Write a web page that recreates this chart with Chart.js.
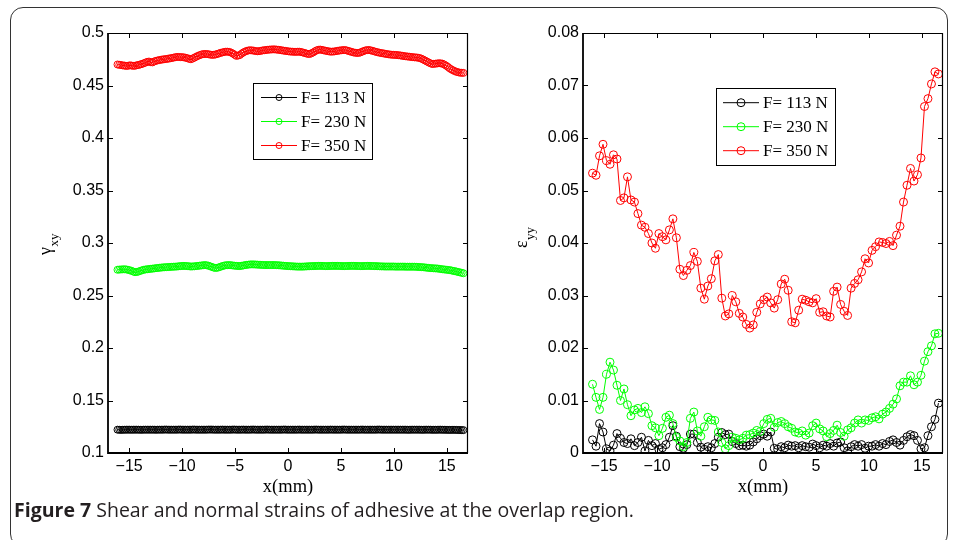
<!DOCTYPE html>
<html>
<head>
<meta charset="utf-8">
<script src="https://cdn.jsdelivr.net/npm/chart.js@4.4.1/dist/chart.umd.min.js"></script>
<style>
  html, body { margin: 0; padding: 0; background: #fff; }
  #page { position: relative; width: 958px; height: 540px; overflow: hidden; background: #fff; }
  #frame { position: absolute; left: 10px; top: 7px; width: 938px; height: 540px; border: 1.5px solid #333; border-radius: 13px; box-sizing: border-box; }
  canvas { position: absolute; top: 0; }
  #c1 { left: 0; }
  #c2 { left: 480px; }
  #cap { position: absolute; left: 14px; top: 502px; white-space: nowrap; font-family: "Open Sans", "Noto Sans", sans-serif; font-size: 17px; line-height: 1; color: #231f20; }
  #cap b { font-weight: 700; }
</style>
</head>
<body>
<div id="page">
  <div id="frame"></div>
  <canvas id="c1" width="480" height="540"></canvas>
  <canvas id="c2" width="478" height="540"></canvas>
  <div id="cap"><b>Figure 7</b> Shear and normal strains of adhesive at the overlap region.</div>
</div>
<script>
// ---------------- DATA ----------------
const seriesLabels = ['F= 113 N', 'F= 230 N', 'F= 350 N'];

// x positions (mm) of the shear-strain samples (left panel)
const xShear = [
  -16.100, -15.935, -15.770, -15.605, -15.440, -15.275, -15.110, -14.945, -14.780, -14.615,
  -14.450, -14.285, -14.120, -13.955, -13.790, -13.625, -13.460, -13.295, -13.130, -12.965,
  -12.800, -12.635, -12.470, -12.305, -12.140, -11.975, -11.810, -11.645, -11.480, -11.315,
  -11.150, -10.985, -10.820, -10.655, -10.490, -10.325, -10.160, -9.995, -9.830, -9.665,
  -9.500, -9.335, -9.170, -9.005, -8.840, -8.675, -8.510, -8.345, -8.180, -8.015,
  -7.850, -7.685, -7.520, -7.355, -7.190, -7.025, -6.860, -6.695, -6.530, -6.365,
  -6.200, -6.035, -5.870, -5.705, -5.540, -5.375, -5.210, -5.045, -4.880, -4.715,
  -4.550, -4.385, -4.220, -4.055, -3.890, -3.725, -3.560, -3.395, -3.230, -3.065,
  -2.900, -2.735, -2.570, -2.405, -2.240, -2.075, -1.910, -1.745, -1.580, -1.415,
  -1.250, -1.085, -0.920, -0.755, -0.590, -0.425, -0.260, -0.095, 0.070, 0.235,
  0.400, 0.565, 0.730, 0.895, 1.060, 1.225, 1.390, 1.555, 1.720, 1.885,
  2.050, 2.215, 2.380, 2.545, 2.710, 2.875, 3.040, 3.205, 3.370, 3.535,
  3.700, 3.865, 4.030, 4.195, 4.360, 4.525, 4.690, 4.855, 5.020, 5.185,
  5.350, 5.515, 5.680, 5.845, 6.010, 6.175, 6.340, 6.505, 6.670, 6.835,
  7.000, 7.165, 7.330, 7.495, 7.660, 7.825, 7.990, 8.155, 8.320, 8.485,
  8.650, 8.815, 8.980, 9.145, 9.310, 9.475, 9.640, 9.805, 9.970, 10.135,
  10.300, 10.465, 10.630, 10.795, 10.960, 11.125, 11.290, 11.455, 11.620, 11.785,
  11.950, 12.115, 12.280, 12.445, 12.610, 12.775, 12.940, 13.105, 13.270, 13.435,
  13.600, 13.765, 13.930, 14.095, 14.260, 14.425, 14.590, 14.755, 14.920, 15.085,
  15.250, 15.415, 15.580, 15.745, 15.910, 16.075, 16.240, 16.405, 16.570
];

// shear strain gamma_xy
const gamma113 = [
  0.1222, 0.1221, 0.1220, 0.1221, 0.1221, 0.1222, 0.1222, 0.1222, 0.1221, 0.1222,
  0.1222, 0.1222, 0.1222, 0.1221, 0.1221, 0.1222, 0.1222, 0.1222, 0.1222, 0.1222,
  0.1222, 0.1222, 0.1221, 0.1222, 0.1222, 0.1222, 0.1222, 0.1223, 0.1223, 0.1222,
  0.1222, 0.1222, 0.1222, 0.1222, 0.1222, 0.1223, 0.1223, 0.1222, 0.1222, 0.1222,
  0.1222, 0.1222, 0.1222, 0.1223, 0.1223, 0.1222, 0.1222, 0.1222, 0.1222, 0.1222,
  0.1222, 0.1222, 0.1223, 0.1223, 0.1223, 0.1222, 0.1222, 0.1222, 0.1222, 0.1222,
  0.1223, 0.1222, 0.1222, 0.1222, 0.1222, 0.1222, 0.1223, 0.1223, 0.1222, 0.1222,
  0.1222, 0.1222, 0.1223, 0.1222, 0.1222, 0.1222, 0.1222, 0.1223, 0.1223, 0.1222,
  0.1222, 0.1222, 0.1222, 0.1222, 0.1222, 0.1223, 0.1223, 0.1222, 0.1222, 0.1222,
  0.1222, 0.1222, 0.1222, 0.1222, 0.1222, 0.1223, 0.1223, 0.1222, 0.1222, 0.1222,
  0.1222, 0.1222, 0.1222, 0.1222, 0.1223, 0.1222, 0.1222, 0.1222, 0.1222, 0.1222,
  0.1222, 0.1222, 0.1222, 0.1223, 0.1223, 0.1222, 0.1222, 0.1222, 0.1222, 0.1222,
  0.1222, 0.1222, 0.1223, 0.1222, 0.1222, 0.1222, 0.1222, 0.1222, 0.1222, 0.1223,
  0.1223, 0.1222, 0.1222, 0.1222, 0.1222, 0.1222, 0.1222, 0.1222, 0.1222, 0.1222,
  0.1223, 0.1222, 0.1222, 0.1222, 0.1222, 0.1222, 0.1222, 0.1222, 0.1222, 0.1223,
  0.1223, 0.1222, 0.1222, 0.1222, 0.1222, 0.1222, 0.1222, 0.1222, 0.1222, 0.1222,
  0.1222, 0.1222, 0.1222, 0.1222, 0.1222, 0.1222, 0.1221, 0.1221, 0.1222, 0.1222,
  0.1222, 0.1222, 0.1222, 0.1222, 0.1221, 0.1221, 0.1222, 0.1222, 0.1222, 0.1222,
  0.1221, 0.1221, 0.1221, 0.1221, 0.1222, 0.1222, 0.1221, 0.1221, 0.1221, 0.1220,
  0.1220, 0.1220, 0.1221, 0.1220, 0.1220, 0.1219, 0.1219, 0.1218, 0.1218
];
const gamma230 = [
  0.2745, 0.2747, 0.2748, 0.2749, 0.2750, 0.2748, 0.2745, 0.2740, 0.2735, 0.2728,
  0.2722, 0.2724, 0.2728, 0.2734, 0.2740, 0.2745, 0.2748, 0.2750, 0.2752, 0.2754,
  0.2756, 0.2758, 0.2760, 0.2762, 0.2764, 0.2766, 0.2768, 0.2769, 0.2770, 0.2771,
  0.2772, 0.2773, 0.2774, 0.2775, 0.2776, 0.2778, 0.2780, 0.2781, 0.2782, 0.2781,
  0.2780, 0.2778, 0.2776, 0.2777, 0.2778, 0.2780, 0.2782, 0.2784, 0.2786, 0.2788,
  0.2790, 0.2788, 0.2784, 0.2778, 0.2772, 0.2766, 0.2762, 0.2764, 0.2768, 0.2774,
  0.2780, 0.2785, 0.2788, 0.2789, 0.2790, 0.2788, 0.2786, 0.2784, 0.2782, 0.2781,
  0.2780, 0.2783, 0.2786, 0.2789, 0.2792, 0.2794, 0.2796, 0.2796, 0.2796, 0.2795,
  0.2794, 0.2793, 0.2792, 0.2791, 0.2790, 0.2790, 0.2790, 0.2790, 0.2790, 0.2790,
  0.2790, 0.2789, 0.2788, 0.2787, 0.2785, 0.2784, 0.2782, 0.2781, 0.2780, 0.2779,
  0.2778, 0.2777, 0.2776, 0.2775, 0.2775, 0.2775, 0.2775, 0.2776, 0.2777, 0.2778,
  0.2779, 0.2780, 0.2780, 0.2781, 0.2781, 0.2782, 0.2782, 0.2782, 0.2781, 0.2780,
  0.2780, 0.2781, 0.2781, 0.2782, 0.2782, 0.2782, 0.2782, 0.2781, 0.2781, 0.2780,
  0.2780, 0.2781, 0.2781, 0.2782, 0.2782, 0.2782, 0.2782, 0.2781, 0.2781, 0.2780,
  0.2780, 0.2781, 0.2781, 0.2782, 0.2782, 0.2781, 0.2781, 0.2780, 0.2780, 0.2779,
  0.2778, 0.2777, 0.2777, 0.2776, 0.2776, 0.2776, 0.2776, 0.2776, 0.2776, 0.2775,
  0.2775, 0.2775, 0.2775, 0.2775, 0.2775, 0.2774, 0.2774, 0.2774, 0.2774, 0.2774,
  0.2774, 0.2773, 0.2772, 0.2771, 0.2770, 0.2769, 0.2767, 0.2765, 0.2763, 0.2761,
  0.2760, 0.2759, 0.2758, 0.2757, 0.2755, 0.2752, 0.2750, 0.2748, 0.2746, 0.2744,
  0.2742, 0.2739, 0.2735, 0.2732, 0.2728, 0.2724, 0.2720, 0.2716, 0.2712
];
const gamma350 = [
  0.4700, 0.4697, 0.4695, 0.4691, 0.4690, 0.4686, 0.4688, 0.4692, 0.4690, 0.4687,
  0.4688, 0.4693, 0.4695, 0.4701, 0.4705, 0.4712, 0.4718, 0.4725, 0.4728, 0.4722,
  0.4720, 0.4729, 0.4735, 0.4739, 0.4742, 0.4746, 0.4748, 0.4751, 0.4752, 0.4756,
  0.4758, 0.4762, 0.4765, 0.4769, 0.4772, 0.4772, 0.4770, 0.4770, 0.4768, 0.4764,
  0.4760, 0.4754, 0.4750, 0.4757, 0.4765, 0.4774, 0.4782, 0.4789, 0.4795, 0.4799,
  0.4800, 0.4800, 0.4798, 0.4794, 0.4792, 0.4792, 0.4795, 0.4800, 0.4805, 0.4811,
  0.4815, 0.4819, 0.4822, 0.4822, 0.4820, 0.4813, 0.4805, 0.4793, 0.4782, 0.4785,
  0.4790, 0.4803, 0.4815, 0.4823, 0.4830, 0.4834, 0.4836, 0.4834, 0.4832, 0.4828,
  0.4826, 0.4827, 0.4830, 0.4834, 0.4836, 0.4838, 0.4840, 0.4842, 0.4843, 0.4844,
  0.4844, 0.4842, 0.4840, 0.4838, 0.4835, 0.4832, 0.4830, 0.4827, 0.4825, 0.4823,
  0.4822, 0.4821, 0.4820, 0.4821, 0.4822, 0.4819, 0.4815, 0.4810, 0.4805, 0.4801,
  0.4800, 0.4807, 0.4815, 0.4826, 0.4835, 0.4840, 0.4842, 0.4839, 0.4835, 0.4831,
  0.4828, 0.4825, 0.4822, 0.4823, 0.4824, 0.4827, 0.4830, 0.4833, 0.4835, 0.4837,
  0.4838, 0.4835, 0.4830, 0.4825, 0.4820, 0.4815, 0.4812, 0.4810, 0.4810, 0.4815,
  0.4822, 0.4829, 0.4835, 0.4837, 0.4838, 0.4834, 0.4830, 0.4825, 0.4820, 0.4816,
  0.4812, 0.4809, 0.4806, 0.4803, 0.4800, 0.4797, 0.4795, 0.4793, 0.4792, 0.4791,
  0.4790, 0.4788, 0.4786, 0.4783, 0.4780, 0.4778, 0.4776, 0.4774, 0.4772, 0.4770,
  0.4768, 0.4767, 0.4765, 0.4761, 0.4755, 0.4747, 0.4738, 0.4729, 0.4720, 0.4712,
  0.4705, 0.4706, 0.4708, 0.4710, 0.4712, 0.4711, 0.4708, 0.4700, 0.4690, 0.4678,
  0.4665, 0.4654, 0.4645, 0.4637, 0.4630, 0.4626, 0.4622, 0.4621, 0.4620
];

// x positions (mm) of the normal-strain samples (right panel)
const xNormal = [
  -16.10, -15.77, -15.44, -15.11, -14.78, -14.45, -14.12, -13.79, -13.46, -13.13,
  -12.80, -12.47, -12.14, -11.81, -11.48, -11.15, -10.82, -10.49, -10.16, -9.83,
  -9.50, -9.17, -8.84, -8.51, -8.18, -7.85, -7.52, -7.19, -6.86, -6.53,
  -6.20, -5.87, -5.54, -5.21, -4.88, -4.55, -4.22, -3.89, -3.56, -3.23,
  -2.90, -2.57, -2.24, -1.91, -1.58, -1.25, -0.92, -0.59, -0.26, 0.07,
  0.40, 0.73, 1.06, 1.39, 1.72, 2.05, 2.38, 2.71, 3.04, 3.37,
  3.70, 4.03, 4.36, 4.69, 5.02, 5.35, 5.68, 6.01, 6.34, 6.67,
  7.00, 7.33, 7.66, 7.99, 8.32, 8.65, 8.98, 9.31, 9.64, 9.97,
  10.30, 10.63, 10.96, 11.29, 11.62, 11.95, 12.28, 12.61, 12.94, 13.27,
  13.60, 13.93, 14.26, 14.59, 14.92, 15.25, 15.58, 15.91, 16.24, 16.57
];

// normal strain epsilon_yy
const eps113 = [
  0.0025, 0.0013, 0.0056, 0.0040, 0.0008, 0.0004, 0.0015, 0.0037, 0.0028, 0.0020,
  0.0018, 0.0027, 0.0014, 0.0020, 0.0030, 0.0004, 0.0024, 0.0014, 0.0018, 0.0007,
  0.0010, 0.0016, 0.0030, 0.0052, 0.0032, 0.0012, 0.0009, 0.0016, 0.0036, 0.0036,
  0.0020, 0.0011, 0.0007, 0.0012, 0.0010, 0.0018, 0.0030, 0.0039, 0.0035, 0.0036,
  0.0022, 0.0018, 0.0014, 0.0015, 0.0013, 0.0015, 0.0021, 0.0027, 0.0033, 0.0036,
  0.0032, 0.0040, 0.0009, 0.0007, 0.0012, 0.0010, 0.0015, 0.0013, 0.0014, 0.0010,
  0.0014, 0.0012, 0.0011, 0.0017, 0.0014, 0.0010, 0.0015, 0.0013, 0.0018, 0.0013,
  0.0019, 0.0021, 0.0010, 0.0004, 0.0012, 0.0016, 0.0013, 0.0016, 0.0009, 0.0013,
  0.0013, 0.0016, 0.0013, 0.0018, 0.0016, 0.0022, 0.0025, 0.0020, 0.0015, 0.0024,
  0.0031, 0.0035, 0.0033, 0.0024, 0.0008, 0.0010, 0.0033, 0.0050, 0.0064, 0.0095
];
const eps230 = [
  0.0131, 0.0106, 0.0083, 0.0106, 0.0150, 0.0173, 0.0158, 0.0129, 0.0100, 0.0122,
  0.0092, 0.0071, 0.0082, 0.0085, 0.0077, 0.0088, 0.0075, 0.0052, 0.0048, 0.0033,
  0.0047, 0.0068, 0.0072, 0.0056, 0.0030, 0.0023, 0.0012, 0.0020, 0.0066, 0.0078,
  0.0042, 0.0032, 0.0050, 0.0068, 0.0063, 0.0062, 0.0040, 0.0020, 0.0008, 0.0014,
  0.0030, 0.0028, 0.0025, 0.0028, 0.0034, 0.0035, 0.0038, 0.0043, 0.0041, 0.0056,
  0.0064, 0.0066, 0.0049, 0.0058, 0.0060, 0.0056, 0.0050, 0.0047, 0.0040, 0.0038,
  0.0042, 0.0034, 0.0038, 0.0052, 0.0057, 0.0046, 0.0042, 0.0031, 0.0037, 0.0043,
  0.0053, 0.0039, 0.0032, 0.0044, 0.0048, 0.0057, 0.0063, 0.0057, 0.0063, 0.0062,
  0.0067, 0.0069, 0.0065, 0.0074, 0.0078, 0.0085, 0.0093, 0.0103, 0.0128, 0.0135,
  0.0135, 0.0147, 0.0130, 0.0135, 0.0148, 0.0175, 0.0193, 0.0204, 0.0227, 0.0228
];
const eps350 = [
  0.0533, 0.0529, 0.0566, 0.0588, 0.0557, 0.0550, 0.0568, 0.0560, 0.0481, 0.0486,
  0.0526, 0.0482, 0.0478, 0.0456, 0.0434, 0.0430, 0.0418, 0.0400, 0.0390, 0.0418,
  0.0412, 0.0406, 0.0425, 0.0446, 0.0410, 0.0350, 0.0338, 0.0348, 0.0357, 0.0382,
  0.0365, 0.0314, 0.0293, 0.0318, 0.0332, 0.0366, 0.0378, 0.0295, 0.0261, 0.0265,
  0.0300, 0.0288, 0.0266, 0.0259, 0.0245, 0.0238, 0.0244, 0.0268, 0.0284, 0.0292,
  0.0297, 0.0286, 0.0276, 0.0292, 0.0322, 0.0331, 0.0310, 0.0250, 0.0248, 0.0272,
  0.0293, 0.0291, 0.0288, 0.0286, 0.0294, 0.0268, 0.0269, 0.0261, 0.0259, 0.0308,
  0.0316, 0.0283, 0.0270, 0.0262, 0.0314, 0.0323, 0.0330, 0.0345, 0.0370, 0.0362,
  0.0386, 0.0393, 0.0402, 0.0401, 0.0399, 0.0403, 0.0395, 0.0415, 0.0432, 0.0478,
  0.0510, 0.0542, 0.0518, 0.0530, 0.0562, 0.0660, 0.0675, 0.0703, 0.0726, 0.0722
];

const xTickValues = [-15, -10, -5, 0, 5, 10, 15];
const xTickLabels = ['\u221215', '\u221210', '\u22125', '0', '5', '10', '15'];
const gammaTickValues = [0.1, 0.15, 0.2, 0.25, 0.3, 0.35, 0.4, 0.45, 0.5];
const gammaTickLabels = ['0.1', '0.15', '0.2', '0.25', '0.3', '0.35', '0.4', '0.45', '0.5'];
const epsTickValues = [0, 0.01, 0.02, 0.03, 0.04, 0.05, 0.06, 0.07, 0.08];
const epsTickLabels = ['0', '0.01', '0.02', '0.03', '0.04', '0.05', '0.06', '0.07', '0.08'];

// ---------------- STYLE / HELPERS ----------------
const seriesColors = ['#000000', '#00ff00', '#ff0000'];
const tickFont = { family: '"Liberation Sans", Arial, sans-serif', size: 16 };
const serif = '"Liberation Serif", "Times New Roman", serif';

function buildDatasets(xs, seriesList, radius) {
  return seriesList.map((vals, i) => ({
    label: seriesLabels[i],
    data: vals.map((v, k) => ({ x: xs[k], y: v })),
    borderColor: seriesColors[i],
    backgroundColor: 'rgba(0,0,0,0)',
    borderWidth: 1,
    pointRadius: radius,
    pointBorderWidth: 1,
    pointBorderColor: seriesColors[i],
    pointBackgroundColor: 'rgba(0,0,0,0)',
    pointStyle: 'circle',
    tension: 0,
    fill: false,
    order: 2 - i
  }));
}

const matlabAxes = {
  id: 'matlabAxes',
  afterDraw(chart, args, o) {
    const { ctx, chartArea: a, scales: { x, y } } = chart;
    ctx.save();
    ctx.strokeStyle = '#000';
    ctx.lineWidth = 1;
    ctx.beginPath();
    x.ticks.forEach(t => {
      const px = Math.round(x.getPixelForValue(t.value)) + 0.5;
      ctx.moveTo(px, a.bottom); ctx.lineTo(px, a.bottom - 5);
      ctx.moveTo(px, a.top); ctx.lineTo(px, a.top + 5);
    });
    y.ticks.forEach(t => {
      const py = Math.round(y.getPixelForValue(t.value)) + 0.5;
      ctx.moveTo(a.left, py); ctx.lineTo(a.left + 5, py);
      ctx.moveTo(a.right, py); ctx.lineTo(a.right - 5, py);
    });
    ctx.stroke();
    ctx.lineWidth = 1.2;
    ctx.beginPath();
    ctx.moveTo(a.left, a.top + 0.5); ctx.lineTo(a.right, a.top + 0.5);
    ctx.moveTo(a.right - 0.5, a.top); ctx.lineTo(a.right - 0.5, a.bottom);
    ctx.stroke();
    ctx.lineWidth = 1.8;
    ctx.beginPath();
    ctx.moveTo(a.left, a.top); ctx.lineTo(a.left, a.bottom);
    ctx.lineTo(a.right, a.bottom);
    ctx.stroke();

    // x title
    ctx.fillStyle = '#000';
    ctx.font = '18.5px ' + serif;
    ctx.textAlign = 'center';
    ctx.textBaseline = 'alphabetic';
    ctx.fillText(o.xTitle, (a.left + a.right) / 2, o.xTitleBaseline);

    // y title (rotated, with subscript)
    ctx.save();
    ctx.translate(o.yBaseX, o.yStartY);
    ctx.rotate(-Math.PI / 2);
    ctx.textAlign = 'left';
    ctx.font = '18px ' + serif;
    ctx.fillText(o.yMain, 0, 0);
    const w = ctx.measureText(o.yMain).width;
    ctx.font = '13px ' + serif;
    ctx.fillText(o.ySub, w + 0.5, o.ySubShift);
    ctx.restore();

    // legend
    const L = o.legend;
    ctx.fillStyle = '#fff';
    ctx.fillRect(L.x, L.y, L.w, L.h);
    ctx.lineWidth = 1;
    ctx.strokeStyle = '#000';
    ctx.strokeRect(L.x + 0.5, L.y + 0.5, L.w, L.h);
    chart.data.datasets.forEach((ds, i) => {
      const ry = L.rows[i];
      ctx.strokeStyle = ds.borderColor;
      ctx.lineWidth = 1;
      ctx.beginPath();
      ctx.moveTo(L.lineX1, ry); ctx.lineTo(L.lineX2, ry);
      ctx.stroke();
      ctx.beginPath();
      ctx.arc(L.markerX, ry, L.markerR, 0, Math.PI * 2);
      ctx.stroke();
      ctx.fillStyle = '#000';
      ctx.font = '17px ' + serif;
      ctx.textAlign = 'left';
      ctx.textBaseline = 'middle';
      ctx.fillText(ds.label, L.textX, ry + 1);
    });
    ctx.restore();
  }
};

function makeChart(canvasId, xs, seriesList, yMin, yMax, yTickValues, yTickLabels, yWidth, rightPad, radius, axesOpts) {
  return new Chart(document.getElementById(canvasId), {
    type: 'line',
    data: { datasets: buildDatasets(xs, seriesList, radius) },
    options: {
      responsive: false,
      animation: false,
      events: [],
      layout: { padding: { top: 33, right: rightPad, left: 0, bottom: 0 } },
      plugins: {
        legend: { display: false },
        tooltip: { enabled: false },
        matlabAxes: axesOpts
      },
      scales: {
        x: {
          type: 'linear', min: -17, max: 17,
          grid: { display: false, drawTicks: false },
          border: { display: false },
          ticks: {
            padding: 4, color: '#000', font: tickFont, maxRotation: 0, autoSkip: false,
            callback: v => xTickLabels[xTickValues.indexOf(v)]
          },
          afterBuildTicks: s => { s.ticks = xTickValues.map(v => ({ value: v })); },
          afterFit: s => { s.height = 87; }
        },
        y: {
          type: 'linear', min: yMin, max: yMax,
          grid: { display: false, drawTicks: false },
          border: { display: false },
          ticks: {
            padding: 4, color: '#000', font: tickFont, autoSkip: false,
            callback: v => yTickLabels[yTickValues.indexOf(v)]
          },
          afterBuildTicks: s => { s.ticks = yTickValues.map(v => ({ value: v })); },
          afterFit: s => { s.width = yWidth; }
        }
      }
    },
    plugins: [matlabAxes]
  });
}

makeChart('c1', xShear, [gamma113, gamma230, gamma350], 0.1, 0.5, gammaTickValues, gammaTickLabels, 108, 12, 3.5, {
  xTitle: 'x(mm)', xTitleBaseline: 492,
  yMain: '\u03b3', ySub: 'xy', yBaseX: 50.5, yStartY: 255, ySubShift: 7.5,
  legend: { x: 253, y: 83, w: 119, h: 76, rows: [97.5, 121.5, 145.5], lineX1: 261, lineX2: 297, markerX: 279, markerR: 3, textX: 301 }
});

makeChart('c2', xNormal, [eps113, eps230, eps350], 0, 0.08, epsTickValues, epsTickLabels, 103, 15, 4, {
  xTitle: 'x(mm)', xTitleBaseline: 492,
  yMain: '\u03b5', ySub: 'yy', yBaseX: 47, yStartY: 248, ySubShift: 7,
  legend: { x: 236, y: 88, w: 119, h: 77, rows: [102.7, 126.7, 150.7], lineX1: 243, lineX2: 279, markerX: 261, markerR: 4, textX: 283 }
});

// fit caption width to the reference (~620px)
(function () {
  const cap = document.getElementById('cap');
  const w = cap.getBoundingClientRect().width;
  const size = 17 * 620 / w;
  cap.style.fontSize = size.toFixed(2) + 'px';
  cap.style.top = (517 - 0.888 * size).toFixed(1) + 'px';
})();
</script>
</body>
</html>
